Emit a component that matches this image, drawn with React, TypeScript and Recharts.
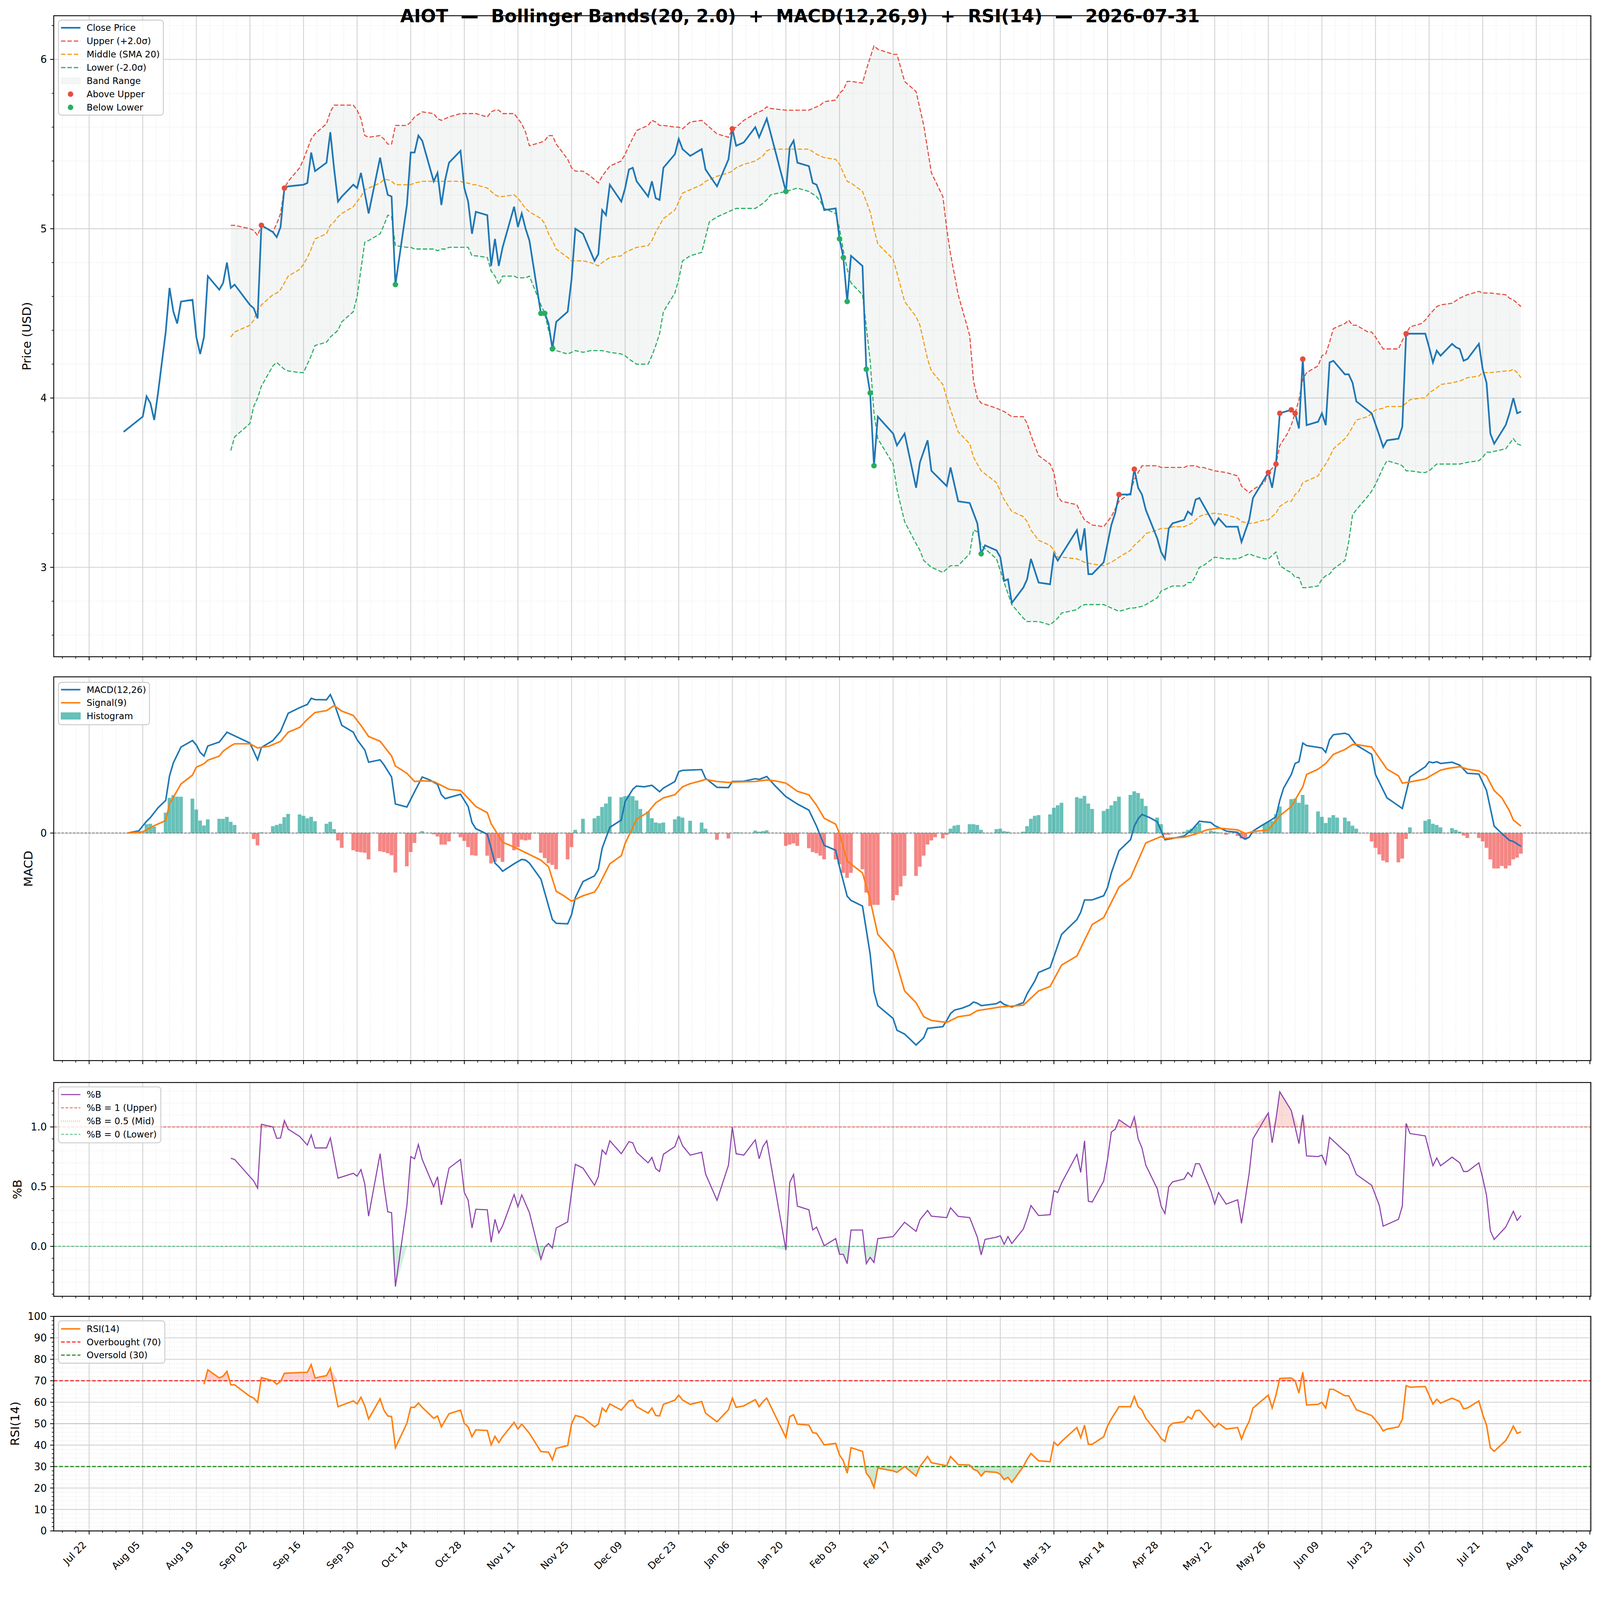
import React from 'react';
import {
  ComposedChart,
  Line,
  Area,
  Bar,
  Cell,
  Scatter,
  XAxis,
  YAxis,
  CartesianGrid,
  ReferenceLine,
} from 'recharts';

// x values are calendar days counted from 2025-07-22
const monthTicks = [
  'Jul 22', 'Aug 05', 'Aug 19', 'Sep 02', 'Sep 16', 'Sep 30', 'Oct 14', 'Oct 28',
  'Nov 11', 'Nov 25', 'Dec 09', 'Dec 23', 'Jan 06', 'Jan 20', 'Feb 03', 'Feb 17',
  'Mar 03', 'Mar 17', 'Mar 31', 'Apr 14', 'Apr 28', 'May 12', 'May 26', 'Jun 09',
  'Jun 23', 'Jul 07', 'Jul 21', 'Aug 04', 'Aug 18',
];

const closePrice: [number, number][] = [
  [9, 3.8], [14, 3.89], [15, 4.01], [16, 3.97], [17, 3.87], [18, 4.03], [20, 4.39], [21, 4.65],
  [22, 4.51], [23, 4.44], [24, 4.57], [27, 4.58], [28, 4.36], [29, 4.26], [30, 4.36], [31, 4.72],
  [34, 4.64], [35, 4.68], [36, 4.8], [37, 4.65], [38, 4.67], [42, 4.55], [43, 4.53], [44, 4.47],
  [45, 5.02], [48, 4.98], [49, 4.95], [50, 5.01], [51, 5.24], [52, 5.25], [56, 5.26], [57, 5.27],
  [58, 5.45], [59, 5.34], [62, 5.39], [63, 5.57], [64, 5.35], [65, 5.16], [66, 5.19], [69, 5.26],
  [70, 5.24], [71, 5.33], [73, 5.09], [76, 5.42], [77, 5.3], [78, 5.2], [79, 5.19], [80, 4.67],
  [83, 5.14], [84, 5.45], [85, 5.45], [86, 5.55], [87, 5.52], [90, 5.28], [91, 5.33], [92, 5.14],
  [93, 5.29], [94, 5.39], [97, 5.46], [98, 5.24], [99, 5.16], [100, 4.97], [101, 5.1], [104, 5.08],
  [105, 4.78], [106, 4.94], [107, 4.78], [108, 4.89], [111, 5.13], [112, 5.01], [113, 5.09],
  [114, 5.0], [115, 4.93], [118, 4.5], [119, 4.5], [120, 4.44], [121, 4.29], [122, 4.45],
  [125, 4.51], [126, 4.7], [127, 5.0], [129, 4.97], [132, 4.81], [133, 4.85], [134, 5.11],
  [135, 5.08], [136, 5.26], [139, 5.16], [140, 5.24], [141, 5.35], [142, 5.36], [143, 5.28],
  [146, 5.19], [147, 5.28], [148, 5.18], [149, 5.17], [150, 5.36], [153, 5.44], [154, 5.53],
  [155, 5.47], [157, 5.43], [160, 5.47], [161, 5.35], [164, 5.25], [167, 5.41], [168, 5.59],
  [169, 5.49], [171, 5.51], [174, 5.6], [175, 5.54], [177, 5.65], [182, 5.22], [183, 5.48],
  [184, 5.52], [185, 5.39], [188, 5.37], [189, 5.27], [190, 5.26], [191, 5.2], [192, 5.11],
  [195, 5.12], [196, 4.94], [197, 4.83], [198, 4.57], [199, 4.84], [202, 4.78], [203, 4.17],
  [204, 4.03], [205, 3.6], [206, 3.89], [210, 3.79], [211, 3.72], [213, 3.79], [216, 3.47],
  [217, 3.62], [219, 3.75], [220, 3.57], [224, 3.48], [225, 3.59], [227, 3.39], [230, 3.38],
  [232, 3.26], [233, 3.08], [234, 3.13], [237, 3.1], [238, 3.06], [239, 2.92], [240, 2.93],
  [241, 2.79], [244, 2.88], [245, 2.93], [246, 3.05], [248, 2.91], [251, 2.9], [252, 3.08],
  [253, 3.04], [258, 3.22], [259, 3.1], [260, 3.23], [261, 2.96], [262, 2.96], [265, 3.03],
  [267, 3.25], [268, 3.32], [269, 3.43], [272, 3.43], [273, 3.58], [274, 3.47], [275, 3.43],
  [276, 3.34], [279, 3.17], [280, 3.09], [281, 3.05], [282, 3.23], [283, 3.26], [286, 3.28],
  [287, 3.33], [288, 3.31], [289, 3.4], [290, 3.41], [294, 3.25], [295, 3.29], [297, 3.24],
  [300, 3.24], [301, 3.15], [303, 3.28], [304, 3.41], [308, 3.56], [309, 3.47], [310, 3.61],
  [311, 3.91], [314, 3.93], [315, 3.91], [316, 3.82], [317, 4.23], [318, 3.84], [321, 3.86],
  [322, 3.91], [323, 3.84], [324, 4.21], [325, 4.22], [328, 4.14], [329, 4.14], [330, 4.09],
  [331, 3.98], [335, 3.91], [337, 3.78], [338, 3.71], [339, 3.75], [342, 3.76], [343, 3.83],
  [344, 4.38], [349, 4.38], [350, 4.3], [351, 4.21], [352, 4.28], [353, 4.25], [356, 4.32],
  [357, 4.3], [358, 4.29], [359, 4.22], [360, 4.23], [363, 4.32], [364, 4.17], [365, 4.09],
  [366, 3.79], [367, 3.73], [370, 3.84], [371, 3.91], [372, 4.0], [373, 3.91], [374, 3.92],
];

// [day, upper, middle, lower]
const bands: [number, number, number, number][] = [
  [37, 5.02, 4.36, 3.69], [38, 5.02, 4.39, 3.77], [42, 5.0, 4.43, 3.85], [43, 4.99, 4.46, 3.95],
  [44, 4.96, 4.52, 4.0], [45, 5.02, 4.55, 4.07], [48, 4.98, 4.61, 4.19], [49, 5.03, 4.62, 4.21],
  [50, 5.09, 4.64, 4.19], [51, 5.24, 4.68, 4.17], [52, 5.28, 4.72, 4.16], [55, 5.36, 4.76, 4.15],
  [56, 5.41, 4.79, 4.15], [57, 5.47, 4.83, 4.2], [58, 5.53, 4.88, 4.25], [59, 5.56, 4.94, 4.31],
  [62, 5.62, 4.97, 4.33], [63, 5.69, 5.02, 4.36], [64, 5.73, 5.04, 4.38], [65, 5.73, 5.07, 4.4],
  [66, 5.73, 5.09, 4.45], [69, 5.73, 5.13, 4.51], [70, 5.7, 5.16, 4.6], [71, 5.65, 5.19, 4.76],
  [72, 5.55, 5.23, 4.92], [73, 5.54, 5.24, 4.93], [76, 5.55, 5.27, 4.97], [77, 5.53, 5.29, 5.02],
  [78, 5.5, 5.29, 5.08], [79, 5.5, 5.28, 5.07], [80, 5.61, 5.26, 4.9], [83, 5.61, 5.26, 4.89],
  [84, 5.63, 5.26, 4.89], [85, 5.66, 5.27, 4.88], [87, 5.69, 5.28, 4.88], [90, 5.68, 5.28, 4.88],
  [91, 5.65, 5.28, 4.87], [92, 5.64, 5.28, 4.88], [93, 5.65, 5.28, 4.88], [94, 5.66, 5.28, 4.89],
  [97, 5.68, 5.28, 4.89], [98, 5.68, 5.27, 4.89], [99, 5.68, 5.27, 4.89], [100, 5.68, 5.26, 4.84],
  [101, 5.68, 5.26, 4.84], [104, 5.66, 5.24, 4.83], [105, 5.69, 5.22, 4.75], [106, 5.7, 5.2, 4.72],
  [107, 5.7, 5.19, 4.67], [108, 5.68, 5.19, 4.72], [111, 5.68, 5.2, 4.72], [112, 5.65, 5.18, 4.71],
  [113, 5.62, 5.15, 4.71], [114, 5.57, 5.12, 4.71], [115, 5.49, 5.1, 4.72], [118, 5.51, 5.06, 4.55],
  [119, 5.52, 5.03, 4.5], [120, 5.55, 4.97, 4.4], [121, 5.55, 4.93, 4.32], [122, 5.5, 4.88, 4.28],
  [125, 5.41, 4.83, 4.26], [126, 5.36, 4.81, 4.27], [127, 5.34, 4.81, 4.28], [129, 5.34, 4.81, 4.27],
  [131, 5.31, 4.8, 4.28], [133, 5.27, 4.78, 4.28], [134, 5.31, 4.8, 4.28], [136, 5.37, 4.83, 4.27],
  [139, 5.4, 4.84, 4.26], [140, 5.44, 4.86, 4.25], [141, 5.49, 4.87, 4.23], [143, 5.58, 4.89, 4.2],
  [146, 5.61, 4.9, 4.2], [147, 5.64, 4.93, 4.25], [148, 5.63, 4.98, 4.31], [149, 5.61, 5.02, 4.38],
  [150, 5.61, 5.06, 4.51], [153, 5.6, 5.11, 4.62], [154, 5.6, 5.16, 4.7], [155, 5.59, 5.21, 4.81],
  [157, 5.63, 5.23, 4.84], [160, 5.64, 5.26, 4.86], [161, 5.62, 5.28, 4.95], [162, 5.6, 5.29, 5.04],
  [164, 5.56, 5.31, 5.07], [167, 5.54, 5.33, 5.1], [168, 5.59, 5.34, 5.11], [169, 5.6, 5.36, 5.12],
  [171, 5.64, 5.38, 5.12], [174, 5.68, 5.4, 5.12], [176, 5.7, 5.43, 5.15], [177, 5.72, 5.46, 5.17],
  [178, 5.71, 5.47, 5.2], [182, 5.7, 5.47, 5.22], [185, 5.7, 5.47, 5.24], [188, 5.7, 5.47, 5.22],
  [190, 5.72, 5.44, 5.19], [191, 5.73, 5.43, 5.16], [192, 5.75, 5.42, 5.12], [195, 5.76, 5.41, 5.09],
  [196, 5.8, 5.38, 5.0], [197, 5.82, 5.33, 4.87], [198, 5.87, 5.28, 4.76], [199, 5.87, 5.27, 4.68],
  [202, 5.86, 5.22, 4.61], [203, 5.94, 5.16, 4.42], [204, 6.01, 5.1, 4.22], [205, 6.08, 5.0, 3.91],
  [206, 6.06, 4.91, 3.76], [210, 6.03, 4.82, 3.61], [211, 6.03, 4.74, 3.46], [213, 5.87, 4.57, 3.27],
  [216, 5.81, 4.48, 3.14], [217, 5.71, 4.43, 3.1], [218, 5.61, 4.33, 3.04], [219, 5.47, 4.23, 3.02],
  [220, 5.33, 4.16, 3.0], [223, 5.19, 4.08, 2.97], [224, 5.0, 4.0, 2.99], [225, 4.85, 3.93, 3.01],
  [227, 4.61, 3.8, 3.01], [230, 4.37, 3.73, 3.08], [231, 4.1, 3.65, 3.22], [232, 4.0, 3.61, 3.21],
  [233, 3.97, 3.57, 3.13], [237, 3.94, 3.5, 3.05], [239, 3.92, 3.4, 2.91], [241, 3.89, 3.33, 2.78],
  [244, 3.89, 3.3, 2.7], [245, 3.85, 3.27, 2.68], [246, 3.78, 3.22, 2.68], [248, 3.66, 3.16, 2.68],
  [251, 3.61, 3.13, 2.66], [252, 3.56, 3.1, 2.68], [253, 3.42, 3.06, 2.7], [254, 3.39, 3.06, 2.73],
  [258, 3.37, 3.05, 2.75], [259, 3.32, 3.04, 2.77], [260, 3.28, 3.03, 2.78], [262, 3.25, 3.02, 2.78],
  [265, 3.24, 3.01, 2.78], [267, 3.3, 3.03, 2.76], [269, 3.39, 3.06, 2.74], [272, 3.44, 3.1, 2.76],
  [273, 3.52, 3.13, 2.76], [275, 3.6, 3.17, 2.77], [276, 3.6, 3.2, 2.78], [279, 3.6, 3.22, 2.82],
  [280, 3.59, 3.23, 2.86], [282, 3.59, 3.23, 2.88], [283, 3.59, 3.24, 2.89], [286, 3.59, 3.24, 2.89],
  [287, 3.6, 3.25, 2.91], [288, 3.6, 3.26, 2.91], [289, 3.6, 3.28, 2.95], [290, 3.59, 3.3, 3.0],
  [291, 3.59, 3.31, 3.01], [294, 3.57, 3.32, 3.06], [297, 3.56, 3.31, 3.05], [300, 3.54, 3.29, 3.05],
  [301, 3.48, 3.27, 3.06], [303, 3.44, 3.26, 3.08], [304, 3.46, 3.26, 3.07], [307, 3.5, 3.28, 3.05],
  [308, 3.56, 3.28, 3.05], [310, 3.61, 3.32, 3.09], [311, 3.72, 3.36, 3.01], [313, 3.79, 3.39, 2.98],
  [314, 3.84, 3.39, 2.97], [315, 3.91, 3.43, 2.94], [316, 3.99, 3.45, 2.94], [317, 4.11, 3.5, 2.88],
  [318, 4.15, 3.51, 2.88], [321, 4.19, 3.54, 2.89], [322, 4.25, 3.58, 2.93], [323, 4.26, 3.61, 2.95],
  [324, 4.33, 3.65, 2.96], [325, 4.41, 3.7, 2.99], [328, 4.44, 3.76, 3.04], [329, 4.46, 3.79, 3.15],
  [330, 4.43, 3.83, 3.31], [331, 4.43, 3.87, 3.34], [334, 4.39, 3.89, 3.42], [335, 4.39, 3.91, 3.45],
  [336, 4.36, 3.93, 3.49], [338, 4.29, 3.94, 3.59], [339, 4.29, 3.95, 3.63], [342, 4.29, 3.95, 3.61],
  [343, 4.34, 3.95, 3.6], [344, 4.38, 3.97, 3.57], [345, 4.42, 3.99, 3.57], [348, 4.44, 4.0, 3.56],
  [349, 4.46, 4.0, 3.56], [350, 4.49, 4.03, 3.57], [352, 4.54, 4.06, 3.61], [353, 4.55, 4.08, 3.61],
  [356, 4.56, 4.09, 3.61], [358, 4.59, 4.1, 3.61], [360, 4.61, 4.12, 3.62], [363, 4.63, 4.13, 3.63],
  [364, 4.62, 4.15, 3.65], [365, 4.62, 4.15, 3.68], [366, 4.62, 4.15, 3.68], [370, 4.61, 4.16, 3.7],
  [371, 4.59, 4.16, 3.73], [372, 4.58, 4.17, 3.76], [373, 4.56, 4.15, 3.73], [374, 4.54, 4.12, 3.72],
];

const aboveUpper: [number, number][] = [
  [45, 5.02], [51, 5.24], [168, 5.59], [269, 3.43], [273, 3.58], [308, 3.56],
  [310, 3.61], [311, 3.91], [314, 3.93], [315, 3.91], [317, 4.23], [344, 4.38],
];
const belowLower: [number, number][] = [
  [80, 4.67], [118, 4.5], [119, 4.5], [121, 4.29], [182, 5.22], [196, 4.94],
  [197, 4.83], [198, 4.57], [203, 4.17], [204, 4.03], [205, 3.6], [233, 3.08],
];

const macdLine: [number, number][] = [
  [10, 0], [13, 0.003], [15, 0.0156], [16, 0.0204], [18, 0.0334], [20, 0.043], [21, 0.0755],
  [22, 0.0927], [24, 0.1135], [27, 0.122], [28, 0.116], [29, 0.1064], [30, 0.1015], [31, 0.1148],
  [34, 0.12], [36, 0.133], [42, 0.1187], [44, 0.0966], [45, 0.1128], [48, 0.122], [50, 0.134],
  [52, 0.158], [55, 0.1654], [57, 0.1696], [58, 0.1777], [59, 0.176], [62, 0.1757], [63, 0.1826],
  [64, 0.171], [66, 0.142], [69, 0.133], [70, 0.123], [72, 0.1096], [73, 0.0934], [76, 0.0966],
  [77, 0.09], [79, 0.0739], [80, 0.0383], [83, 0.0344], [85, 0.0545], [87, 0.0739], [89, 0.07],
  [91, 0.0642], [92, 0.0506], [93, 0.0454], [97, 0.0512], [99, 0.035], [100, 0.0139], [101, 0.0058],
  [104, -0.0016], [105, -0.02], [106, -0.0396], [107, -0.0444], [108, -0.0503], [111, -0.0405],
  [113, -0.0347], [114, -0.0357], [115, -0.0396], [118, -0.0606], [121, -0.114], [122, -0.119],
  [125, -0.1197], [126, -0.1077], [127, -0.085], [129, -0.0639], [132, -0.0564], [133, -0.0477],
  [134, -0.02], [136, 0.0075], [139, 0.0172], [140, 0.0415], [142, 0.0577], [143, 0.062],
  [145, 0.061], [147, 0.063], [149, 0.0545], [150, 0.0593], [153, 0.068], [154, 0.081],
  [155, 0.0827], [160, 0.0837], [161, 0.0723], [164, 0.0603], [167, 0.06], [168, 0.068],
  [171, 0.0684], [174, 0.0717], [175, 0.0707], [177, 0.0746], [179, 0.0632], [182, 0.048],
  [185, 0.0383], [188, 0.0302], [190, 0.0091], [192, -0.0162], [195, -0.0227], [196, -0.0444],
  [198, -0.0833], [199, -0.0888], [202, -0.0963], [204, -0.1595], [205, -0.2088], [206, -0.2276],
  [210, -0.2445], [211, -0.26], [213, -0.265], [216, -0.2795], [218, -0.2698], [219, -0.2575],
  [223, -0.2552], [224, -0.2471], [225, -0.238], [226, -0.2335], [228, -0.2309], [230, -0.227],
  [231, -0.2228], [232, -0.2244], [233, -0.2276], [237, -0.225], [238, -0.2221], [239, -0.226],
  [241, -0.2293], [244, -0.2237], [245, -0.212], [247, -0.1952], [248, -0.1838], [251, -0.1774],
  [254, -0.1336], [258, -0.1141], [259, -0.1044], [260, -0.0882], [262, -0.0882], [265, -0.0827],
  [266, -0.072], [267, -0.0525], [269, -0.0233], [272, -0.0088], [273, 0.0091], [274, 0.0188],
  [275, 0.0246], [277, 0.0204], [279, 0.0149], [281, -0.0088], [283, -0.0071], [286, -0.0039],
  [288, 0.0042], [290, 0.0156], [293, 0.0139], [294, 0.0097], [296, 0.0052], [297, 0.0026],
  [300, 0.001], [301, -0.0055], [302, -0.0078], [303, -0.0055], [304, 0.0026], [306, 0.0091],
  [309, 0.0182], [310, 0.0214], [311, 0.0431], [312, 0.0593], [314, 0.0772], [315, 0.0918],
  [316, 0.094], [317, 0.1187], [318, 0.1154], [322, 0.1122], [323, 0.1064], [324, 0.1232],
  [325, 0.1297], [328, 0.1316], [329, 0.1297], [331, 0.116], [335, 0.1038], [336, 0.0772],
  [339, 0.0464], [343, 0.0324], [345, 0.0739], [349, 0.0875], [350, 0.094], [351, 0.0927],
  [352, 0.094], [353, 0.0918], [356, 0.0934], [358, 0.0895], [360, 0.0788], [363, 0.0778],
  [365, 0.0561], [367, 0.0091], [369, -0.0006], [371, -0.0097], [372, -0.011], [374, -0.0175],
];

const signalLine: [number, number][] = [
  [10, 0], [14, 0.0016], [17, 0.0097], [20, 0.0165], [21, 0.0383], [24, 0.0648], [27, 0.0765],
  [28, 0.0869], [30, 0.0914], [31, 0.096], [34, 0.1015], [35, 0.108], [37, 0.1151], [38, 0.1177],
  [42, 0.1177], [44, 0.1122], [47, 0.1145], [50, 0.121], [52, 0.133], [55, 0.1394], [57, 0.15],
  [59, 0.1589], [62, 0.1615], [64, 0.168], [66, 0.1608], [69, 0.155], [71, 0.142], [73, 0.1274],
  [76, 0.121], [79, 0.1015], [80, 0.0885], [83, 0.0788], [85, 0.068], [87, 0.069], [90, 0.068],
  [94, 0.0577], [97, 0.0561], [98, 0.0512], [101, 0.035], [104, 0.0269], [105, 0.0123],
  [108, -0.012], [111, -0.0185], [113, -0.0233], [118, -0.0357], [120, -0.0444], [122, -0.0768],
  [124, -0.0827], [126, -0.0898], [129, -0.0827], [132, -0.0778], [133, -0.0704], [136, -0.0405],
  [139, -0.0298], [140, -0.0136], [143, 0.0182], [146, 0.0276], [148, 0.0399], [150, 0.0464],
  [153, 0.0506], [155, 0.061], [157, 0.0652], [160, 0.0691], [161, 0.0707], [164, 0.068],
  [167, 0.0668], [169, 0.0674], [174, 0.068], [177, 0.07], [179, 0.069], [182, 0.0658],
  [185, 0.0551], [188, 0.0503], [190, 0.0366], [192, 0.0195], [195, 0.0117], [196, -0.0006],
  [198, -0.037], [202, -0.0525], [204, -0.0882], [206, -0.1336], [210, -0.1563], [213, -0.2082],
  [216, -0.2237], [218, -0.2422], [220, -0.2471], [224, -0.2497], [227, -0.2422], [230, -0.24],
  [232, -0.2341], [235, -0.2318], [238, -0.2293], [244, -0.227], [248, -0.2082], [251, -0.2023],
  [254, -0.1741], [258, -0.1621], [262, -0.1206], [265, -0.1115], [269, -0.0713], [272, -0.059],
  [276, -0.013], [280, -0.0045], [281, -0.0071], [286, -0.0055], [289, -0.0013], [292, 0.0042],
  [295, 0.0065], [300, 0.0042], [302, -0.0006], [304, 0.0019], [308, 0.0042], [311, 0.0227],
  [314, 0.035], [317, 0.061], [318, 0.0772], [321, 0.0843], [323, 0.0918], [325, 0.1038],
  [328, 0.1102], [330, 0.1167], [331, 0.1167], [335, 0.1135], [339, 0.0843], [342, 0.0755],
  [343, 0.0658], [345, 0.0674], [349, 0.0713], [351, 0.0772], [353, 0.083], [355, 0.0853],
  [358, 0.0875], [360, 0.0843], [363, 0.082], [365, 0.0755], [367, 0.0561], [369, 0.0464],
  [371, 0.0292], [372, 0.0172], [374, 0.0091],
];

const macdHist: [number, number][] = [
  [15, 0.0117], [16, 0.0123], [17, 0.0084], [20, 0.0269], [21, 0.0464], [22, 0.05], [23, 0.048],
  [24, 0.048], [27, 0.0454], [28, 0.031], [29, 0.0165], [30, 0.01], [31, 0.018], [34, 0.0188],
  [35, 0.0188], [36, 0.0214], [37, 0.0149], [38, 0.0107], [43, -0.0078], [44, -0.0162], [45, 0.001],
  [48, 0.009], [49, 0.0107], [50, 0.0123], [51, 0.021], [52, 0.0253], [55, 0.0246], [56, 0.0227],
  [57, 0.0195], [58, 0.0214], [59, 0.0156], [62, 0.0123], [63, 0.0149], [64, 0.0052],
  [65, -0.0097], [66, -0.0195], [69, -0.0227], [70, -0.0246], [71, -0.0253], [72, -0.026],
  [73, -0.0347], [76, -0.024], [77, -0.025], [78, -0.0266], [79, -0.0292], [80, -0.0519],
  [83, -0.0438], [84, -0.025], [85, -0.013], [87, 0.0026], [90, -0.0016], [91, -0.0045],
  [92, -0.0152], [93, -0.0152], [94, -0.011], [97, -0.0055], [98, -0.0104], [99, -0.0185],
  [100, -0.0292], [101, -0.0298], [104, -0.0298], [105, -0.04], [106, -0.038], [107, -0.033],
  [108, -0.038], [111, -0.0227], [112, -0.0185], [113, -0.0088], [114, -0.0097], [115, -0.0088],
  [118, -0.026], [119, -0.033], [120, -0.0396], [121, -0.042], [122, -0.0477], [125, -0.0347],
  [126, -0.0185], [127, 0.0042], [129, 0.0188], [132, 0.0195], [133, 0.0227], [134, 0.0344],
  [135, 0.0389], [136, 0.048], [139, 0.0473], [140, 0.0486], [141, 0.0496], [142, 0.0486],
  [143, 0.0431], [144, 0.0318], [146, 0.0285], [147, 0.0195], [148, 0.0139], [149, 0.013],
  [150, 0.0139], [153, 0.0182], [154, 0.022], [155, 0.0204], [157, 0.0162], [160, 0.0139],
  [161, 0.0058], [164, -0.0088], [167, -0.0071], [169, 0.001], [170, 0.0006], [174, 0.0032],
  [175, 0.0019], [176, 0.0026], [177, 0.0036], [182, -0.0169], [183, -0.0152], [184, -0.0136],
  [185, -0.0169], [188, -0.02], [189, -0.025], [190, -0.0266], [191, -0.0298], [192, -0.0347],
  [195, -0.0347], [196, -0.0412], [197, -0.0525], [198, -0.059], [199, -0.0525], [202, -0.0477],
  [203, -0.0785], [204, -0.0963], [205, -0.0947], [206, -0.0947], [210, -0.0888], [211, -0.0817],
  [212, -0.0704], [213, -0.0564], [216, -0.0564], [217, -0.0444], [218, -0.0298], [219, -0.0152],
  [220, -0.0097], [221, -0.0055], [223, -0.0071], [224, -0.0023], [225, 0.0058], [226, 0.0097],
  [227, 0.0107], [230, 0.0117], [231, 0.0117], [232, 0.0107], [233, 0.0042], [237, 0.0052],
  [238, 0.0058], [239, 0.0026], [240, 0.0019], [244, 0.0019], [245, 0.0091], [246, 0.0188],
  [247, 0.0227], [248, 0.0237], [251, 0.0246], [252, 0.0334], [253, 0.0366], [254, 0.0399],
  [258, 0.0473], [259, 0.0457], [260, 0.049], [261, 0.0389], [262, 0.0318], [265, 0.0292],
  [266, 0.0318], [267, 0.0366], [268, 0.0422], [269, 0.048], [272, 0.0503], [273, 0.0551],
  [274, 0.0529], [275, 0.0454], [276, 0.0357], [279, 0.0204], [280, 0.0117], [281, -0.0023],
  [282, -0.0023], [286, 0.0019], [287, 0.0042], [288, 0.0058], [289, 0.0091], [290, 0.013],
  [293, 0.0032], [294, 0.0019], [295, 0.001], [297, -0.0023], [300, -0.0039], [301, -0.0071],
  [302, -0.0088], [304, 0.001], [307, 0.012], [308, 0.015], [309, 0.016], [310, 0.025],
  [311, 0.035], [314, 0.0447], [315, 0.0454], [316, 0.0399], [317, 0.0503], [318, 0.0376],
  [321, 0.0285], [322, 0.0214], [323, 0.0133], [324, 0.0204], [325, 0.0237], [326, 0.0204],
  [328, 0.0204], [329, 0.0156], [330, 0.0097], [331, 0.0058], [335, -0.011], [336, -0.0195],
  [337, -0.0282], [338, -0.0363], [339, -0.0386], [342, -0.0386], [343, -0.0337], [344, -0.0078],
  [345, 0.0075], [349, 0.0162], [350, 0.0182], [351, 0.0123], [352, 0.0107], [353, 0.0075],
  [356, 0.0065], [357, 0.0042], [358, 0.0019], [359, -0.0032], [360, -0.0065], [363, -0.0065],
  [364, -0.011], [365, -0.0195], [366, -0.0347], [367, -0.0467], [368, -0.0467], [369, -0.0434],
  [370, -0.0467], [371, -0.0428], [372, -0.0347], [373, -0.0324], [374, -0.0272],
];

const percentB: [number, number][] = [
  [37, 0.737], [38, 0.728], [43, 0.547], [44, 0.487], [45, 1.022], [48, 1.0], [49, 0.904],
  [50, 0.908], [51, 1.053], [52, 0.981], [55, 0.92], [57, 0.848], [58, 0.933], [59, 0.824],
  [62, 0.824], [63, 0.908], [65, 0.571], [69, 0.612], [70, 0.588], [71, 0.643], [72, 0.523],
  [73, 0.253], [76, 0.776], [77, 0.511], [78, 0.289], [79, 0.282], [80, -0.337], [83, 0.342],
  [84, 0.752], [85, 0.733], [86, 0.853], [87, 0.728], [90, 0.499], [91, 0.583], [92, 0.347],
  [94, 0.655], [97, 0.728], [98, 0.451], [99, 0.386], [100, 0.154], [101, 0.311], [104, 0.306],
  [105, 0.034], [106, 0.227], [107, 0.113], [108, 0.173], [111, 0.434], [112, 0.33], [113, 0.431],
  [115, 0.282], [118, -0.108], [119, -0.007], [120, 0.024], [121, -0.014], [122, 0.154],
  [125, 0.205], [126, 0.451], [127, 0.687], [129, 0.655], [132, 0.511], [133, 0.583], [134, 0.807],
  [135, 0.771], [136, 0.884], [139, 0.776], [141, 0.877], [142, 0.867], [143, 0.788], [146, 0.699],
  [147, 0.745], [148, 0.651], [149, 0.627], [150, 0.771], [153, 0.836], [154, 0.925], [155, 0.843],
  [157, 0.764], [160, 0.788], [161, 0.607], [164, 0.386], [167, 0.68], [168, 1.0], [169, 0.776],
  [171, 0.764], [174, 0.892], [175, 0.733], [176, 0.836], [177, 0.884], [182, -0.031], [183, 0.535],
  [184, 0.602], [185, 0.337], [188, 0.306], [189, 0.137], [190, 0.161], [192, 0.005], [195, 0.065],
  [196, -0.067], [197, -0.067], [198, -0.145], [199, 0.137], [202, 0.137], [203, -0.145],
  [204, -0.092], [205, -0.135], [206, 0.065], [210, 0.082], [213, 0.202], [216, 0.125],
  [217, 0.222], [219, 0.301], [220, 0.253], [224, 0.241], [225, 0.323], [227, 0.251], [230, 0.241],
  [232, 0.077], [233, -0.072], [234, 0.058], [237, 0.077], [238, 0.089], [239, 0.017], [240, 0.082],
  [241, 0.024], [244, 0.145], [245, 0.234], [246, 0.342], [248, 0.258], [251, 0.265], [252, 0.467],
  [253, 0.451], [254, 0.53], [258, 0.771], [259, 0.619], [260, 0.884], [261, 0.378], [262, 0.371],
  [265, 0.547], [266, 0.728], [267, 0.957], [268, 0.981], [269, 1.06], [272, 0.993], [273, 1.084],
  [274, 0.901], [275, 0.824], [276, 0.68], [279, 0.482], [280, 0.337], [281, 0.275], [282, 0.499],
  [283, 0.54], [286, 0.564], [287, 0.619], [288, 0.583], [289, 0.692], [290, 0.692], [293, 0.463],
  [294, 0.354], [295, 0.451], [297, 0.354], [300, 0.39], [301, 0.193], [302, 0.402], [303, 0.612],
  [304, 0.901], [308, 1.118], [309, 0.867], [310, 1.065], [311, 1.294], [314, 1.137], [316, 0.86],
  [317, 1.101], [318, 0.757], [321, 0.752], [322, 0.764], [323, 0.687], [324, 0.913], [329, 0.764],
  [331, 0.602], [335, 0.511], [337, 0.342], [338, 0.169], [342, 0.227], [343, 0.337], [344, 1.029],
  [345, 0.945], [349, 0.925], [351, 0.675], [352, 0.74], [353, 0.675], [356, 0.747], [358, 0.699],
  [359, 0.627], [360, 0.627], [363, 0.699], [364, 0.571], [365, 0.427], [366, 0.13], [367, 0.058],
  [370, 0.161], [371, 0.227], [372, 0.294], [373, 0.217], [374, 0.258],
];

const rsi14: [number, number][] = [
  [30, 68.4], [31, 75.1], [34, 71.3], [35, 72.2], [36, 74.4], [37, 68.1], [38, 68.1], [42, 62.7],
  [43, 61.9], [44, 59.9], [45, 71.5], [48, 70], [49, 68.4], [50, 69.7], [51, 73.5], [57, 74],
  [58, 77.5], [59, 71.3], [62, 72.4], [63, 75.8], [65, 57.9], [69, 60.6], [70, 59.2], [71, 62.3],
  [72, 58.3], [73, 52.2], [76, 61.6], [77, 56.3], [78, 53.6], [79, 53.3], [80, 38.8], [83, 50.2],
  [84, 57.6], [85, 57.6], [86, 59.6], [87, 57.6], [90, 52.5], [91, 53.6], [92, 48.5], [94, 54.6],
  [97, 56.3], [98, 50.2], [99, 48.5], [100, 43.9], [101, 47.1], [104, 46.8], [105, 40.1],
  [106, 44.1], [107, 41.2], [108, 43.9], [111, 50.6], [112, 47.5], [113, 49.8], [115, 45.5],
  [118, 37], [120, 36.7], [121, 33.1], [122, 38.5], [125, 39.8], [126, 49.8], [127, 53.8],
  [129, 52.9], [132, 48.5], [133, 49.8], [134, 57.3], [135, 55.6], [136, 59.2], [139, 56.3],
  [141, 60.6], [142, 61], [143, 57.9], [146, 54.9], [147, 57.3], [148, 53.8], [149, 53.6], [150, 59],
  [153, 61], [154, 63.3], [155, 61], [157, 59], [160, 60.3], [161, 54.9], [164, 50.9], [167, 56.5],
  [168, 61.9], [169, 57.6], [171, 58.3], [174, 61.2], [175, 57.9], [176, 60.3], [177, 61.9],
  [182, 43.5], [183, 53.3], [184, 54.2], [185, 49.8], [188, 49.3], [189, 45.8], [190, 45.5],
  [192, 40.1], [195, 40.8], [196, 35.4], [197, 32.7], [198, 26.9], [199, 38.8], [202, 37.1],
  [203, 26.9], [204, 24.6], [205, 20.2], [206, 29.3], [210, 28], [211, 27.3], [213, 30], [216, 25.6],
  [217, 30], [219, 34.7], [220, 31.8], [224, 30.4], [225, 34.7], [227, 30.9], [230, 30.7],
  [231, 28.7], [232, 28], [233, 25.6], [234, 27.7], [237, 27.3], [238, 26.4], [239, 23.9], [240, 25],
  [241, 22.6], [244, 30], [245, 33.4], [246, 36.1], [248, 32.7], [251, 32.3], [252, 41.4],
  [253, 39.8], [254, 41.7], [258, 48.2], [259, 43.5], [260, 49.3], [261, 40.4], [262, 40.4],
  [265, 43.9], [266, 48.9], [267, 52.2], [269, 57.9], [272, 57.9], [273, 62.7], [274, 57.9],
  [275, 56.3], [276, 52.5], [279, 45.8], [280, 43.1], [281, 41.7], [282, 48.5], [283, 50.2],
  [286, 50.9], [287, 53.3], [288, 52.2], [289, 56], [290, 56.3], [293, 50.2], [294, 48.2],
  [295, 50.2], [297, 47.5], [300, 48.2], [301, 42.8], [302, 47.5], [303, 51.1], [304, 57.3],
  [308, 63.3], [309, 57.3], [310, 63.3], [311, 71.1], [314, 71.3], [315, 70], [316, 64.3], [317, 74],
  [318, 58.7], [321, 59], [322, 60], [323, 57.3], [324, 66], [325, 66], [328, 63], [329, 63],
  [331, 56.5], [335, 53.8], [337, 49.5], [338, 46.6], [339, 47.5], [342, 48.5], [343, 52],
  [344, 67.7], [345, 67], [349, 67.3], [351, 59.2], [352, 61.4], [353, 59.6], [356, 61.9],
  [358, 60.3], [359, 56.9], [360, 57.3], [363, 60.6], [364, 54.2], [365, 49.3], [366, 38.8],
  [367, 37.1], [370, 42.1], [371, 45.2], [372, 48.9], [373, 45.5], [374, 46.2],
];

const FONT = '"DejaVu Sans", sans-serif';
const W = 4378;
const H = 4322;
const PLOT_L = 147;
const PLOT_R = 4353;
const X_DOMAIN: [number, number] = [-9.25, 392.25];

const xMajor = monthTicks.map((_, i) => i * 14);
const xMinor: number[] = [];
for (let k = -2; k <= 112; k++) if (k % 4 !== 0) xMinor.push(k * 3.5);
const xAll = [...xMajor, ...xMinor].sort((a, b) => a - b);

const range = (a: number, b: number, s: number) => {
  const out: number[] = [];
  for (let v = a; v <= b + 1e-9; v += s) out.push(Math.round(v * 1000) / 1000);
  return out;
};
const priceMajor = [3, 4, 5, 6];
const priceMinor = range(2.6, 6.2, 0.2).filter((v) => !priceMajor.some((m) => Math.abs(m - v) < 1e-6));
const pbMajor = [0, 0.5, 1];
const pbMinor = range(-0.4, 1.3, 0.1).filter((v) => !pbMajor.some((m) => Math.abs(m - v) < 1e-6));
const rsiMajor = range(0, 100, 10);
const rsiMinor = range(2, 98, 2).filter((v) => v % 10 !== 0);

const rows = (a: [number, number][]) => a.map(([d, v]) => ({ d, v }));
const bandRows = bands.map(([d, up, mid, lo]) => ({ d, up, mid, lo, r: [lo, up] }));
const histRows = rows(macdHist);
const pbHiFill = percentB.map(([d, v]) => ({ d, r: [1, Math.max(v, 1)] }));
const pbLoFill = percentB.map(([d, v]) => ({ d, r: [Math.min(v, 0), 0] }));
const rsiHiFill = rsi14.map(([d, v]) => ({ d, r: [70, Math.max(v, 70)] }));
const rsiLoFill = rsi14.map(([d, v]) => ({ d, r: [Math.min(v, 30), 30] }));

const makeXTick = (showLabel: boolean) => (props: any) => {
  const { x, y, payload } = props;
  const v = payload.value;
  const major = Math.abs(v % 14) < 1e-6;
  const lx = x - 6;
  const ly = y + 40;
  return (
    <g>
      <line x1={x} x2={x} y1={y} y2={y + (major ? 9.7 : 5.5)} stroke="#000" strokeWidth={major ? 2.2 : 1.7} />
      {showLabel && major && (
        <text x={lx} y={ly} transform={`rotate(-45 ${lx} ${ly})`} textAnchor="end" fontSize={27} fontFamily={FONT} fill="#000">
          {monthTicks[Math.round(v / 14)]}
        </text>
      )}
    </g>
  );
};

const makeYTick = (major: number[], fmt: (v: number) => string) => (props: any) => {
  const { x, y, payload } = props;
  const v = payload.value;
  const isMajor = major.some((m) => Math.abs(m - v) < 1e-6);
  return (
    <g>
      <line x1={x} x2={x - (isMajor ? 9.7 : 5.5)} y1={y} y2={y} stroke="#000" strokeWidth={isMajor ? 2.2 : 1.7} />
      {isMajor && (
        <text x={x - 19} y={y} dy="0.36em" textAnchor="end" fontSize={27.5} fontFamily={FONT} fill="#000">
          {fmt(v)}
        </text>
      )}
    </g>
  );
};

type PanelProps = {
  top: number;
  bottom: number;
  xAxisH: number;
  showXLabels: boolean;
  yDomain: [number, number];
  yMajor: number[];
  yMinor: number[];
  yFmt: (v: number) => string;
  data?: any[];
  children: React.ReactNode;
};

function Panel({ top, bottom, xAxisH, showXLabels, yDomain, yMajor, yMinor, yFmt, data, children }: PanelProps) {
  const pad = 20;
  const height = pad + (bottom - top) + xAxisH;
  return (
    <div style={{ position: 'absolute', left: 0, top: top - pad }}>
      <ComposedChart width={W} height={height} data={data} margin={{ top: pad, right: W - PLOT_R, bottom: 0, left: 0 }}>
        <XAxis
          type="number"
          dataKey="d"
          domain={X_DOMAIN}
          allowDataOverflow
          ticks={xAll}
          interval={0}
          height={xAxisH}
          axisLine={false}
          tickLine={false}
          tickSize={0}
          tickMargin={0}
          tick={makeXTick(showXLabels)}
        />
        <YAxis
          type="number"
          domain={yDomain}
          allowDataOverflow
          ticks={[...yMajor, ...yMinor]}
          interval={0}
          width={PLOT_L}
          axisLine={false}
          tickLine={false}
          tickSize={0}
          tickMargin={0}
          tick={makeYTick(yMajor, yFmt)}
        />
        <CartesianGrid
          verticalValues={xMinor}
          horizontalValues={yMinor}
          horizontal={yMinor.length > 0}
          stroke="#e3e3e3"
          strokeWidth={1.5}
          strokeDasharray="2 3"
        />
        <CartesianGrid verticalValues={xMajor} horizontalValues={yMajor} stroke="#d4d4d4" strokeWidth={2.5} />
        {children}
      </ComposedChart>
    </div>
  );
}

const dot = (color: string) => (p: any) => <circle cx={p.cx} cy={p.cy} r={7.5} fill={color} />;

type LegendItem = { label: string; kind: 'line' | 'patch' | 'marker'; color: string; width?: number; dash?: string; opacity?: number };

function LegendBox({ x, y, w, h, y0, step, items }: { x: number; y: number; w: number; h: number; y0: number; step: number; items: LegendItem[] }) {
  return (
    <g>
      <rect x={x} y={y} width={w} height={h} rx={8} fill="#fff" fillOpacity={0.8} stroke="#cccccc" strokeWidth={2.5} />
      {items.map((it, i) => {
        const cy = y0 + i * step;
        return (
          <g key={it.label}>
            {it.kind === 'line' && (
              <line x1={167} x2={220} y1={cy} y2={cy} stroke={it.color} strokeWidth={it.width ?? 4} strokeDasharray={it.dash} strokeOpacity={it.opacity ?? 1} />
            )}
            {it.kind === 'patch' && (
              <rect x={167} y={cy - 9} width={53} height={18} fill={it.color} fillOpacity={it.opacity ?? 1} stroke={it.color} strokeOpacity={(it.opacity ?? 1) * 0.8} strokeWidth={1.5} />
            )}
            {it.kind === 'marker' && <circle cx={193} cy={cy} r={7.5} fill={it.color} />}
            <text x={237} y={cy} dy="0.36em" fontSize={24.5} fontFamily={FONT} fill="#000">
              {it.label}
            </text>
          </g>
        );
      })}
    </g>
  );
}

const PANELS = {
  price: [43, 1797],
  macd: [1852, 2902],
  pb: [2962, 3547],
  rsi: [3602, 4189],
};

export default function App() {
  // fit the fixed 4378×4322 layout into whatever CSS viewport the browser reports
  const fit =
    typeof window !== 'undefined' && window.innerWidth > 0
      ? Math.min(window.innerWidth / W, window.innerHeight / H)
      : 1;
  const s = fit > 0 ? fit : 1;
  return (
    <div style={{ position: 'absolute', left: 0, top: 0, width: W * s, height: H * s, overflow: 'hidden', background: '#fff' }}>
      <div style={{ position: 'absolute', left: 0, top: 0, width: W, height: H, transform: `scale(${s})`, transformOrigin: '0 0', fontFamily: FONT }}>
        {/* price + bollinger */}
        <Panel top={PANELS.price[0]} bottom={PANELS.price[1]} xAxisH={20} showXLabels={false} yDomain={[2.472, 6.258]} yMajor={priceMajor} yMinor={priceMinor} yFmt={(v) => String(v)}>
          <Area data={bandRows} dataKey="r" type="linear" stroke="none" fill="#95a5a6" fillOpacity={0.1} isAnimationActive={false} />
          <Line data={bandRows} dataKey="up" type="linear" stroke="#e74c3c" strokeWidth={3} strokeDasharray="12 5.5" dot={false} isAnimationActive={false} />
          <Line data={bandRows} dataKey="mid" type="linear" stroke="#f39c12" strokeWidth={3} strokeDasharray="12 5.5" dot={false} isAnimationActive={false} />
          <Line data={bandRows} dataKey="lo" type="linear" stroke="#27ae60" strokeWidth={3} strokeDasharray="12 5.5" dot={false} isAnimationActive={false} />
          <Line data={rows(closePrice)} dataKey="v" type="linear" stroke="#1f77b4" strokeWidth={4.6} dot={false} isAnimationActive={false} />
          <Scatter data={rows(aboveUpper)} dataKey="v" shape={dot('#e74c3c')} isAnimationActive={false} />
          <Scatter data={rows(belowLower)} dataKey="v" shape={dot('#27ae60')} isAnimationActive={false} />
        </Panel>

        {/* MACD */}
        <Panel top={PANELS.macd[0]} bottom={PANELS.macd[1]} xAxisH={20} showXLabels={false} yDomain={[-0.3, 0.206]} yMajor={[0]} yMinor={[]} yFmt={() => '0'} data={histRows}>
          <Bar dataKey="v" barSize={10} isAnimationActive={false}>
            {histRows.map((r, i) => (
              <Cell key={i} fill={r.v >= 0 ? '#26a69a' : '#ef5350'} fillOpacity={0.7} />
            ))}
          </Bar>
          <ReferenceLine y={0} stroke="#808080" strokeWidth={2.5} strokeDasharray="7 3.5" />
          <Line data={rows(macdLine)} dataKey="v" type="linear" stroke="#1f77b4" strokeWidth={4.2} dot={false} isAnimationActive={false} />
          <Line data={rows(signalLine)} dataKey="v" type="linear" stroke="#ff7f0e" strokeWidth={4.2} dot={false} isAnimationActive={false} />
        </Panel>

        {/* %B */}
        <Panel top={PANELS.pb[0]} bottom={PANELS.pb[1]} xAxisH={20} showXLabels={false} yDomain={[-0.418, 1.372]} yMajor={pbMajor} yMinor={pbMinor} yFmt={(v) => v.toFixed(1)}>
          <Area data={pbHiFill} dataKey="r" type="linear" stroke="none" fill="#e74c3c" fillOpacity={0.2} isAnimationActive={false} />
          <Area data={pbLoFill} dataKey="r" type="linear" stroke="none" fill="#27ae60" fillOpacity={0.2} isAnimationActive={false} />
          <ReferenceLine y={1} stroke="#e74c3c" strokeOpacity={0.75} strokeWidth={2.8} strokeDasharray="8 4" />
          <ReferenceLine y={0.5} stroke="#f39c12" strokeOpacity={0.7} strokeWidth={2.8} strokeDasharray="2.5 3" />
          <ReferenceLine y={0} stroke="#27ae60" strokeOpacity={0.7} strokeWidth={2.8} strokeDasharray="8 4" />
          <Line data={rows(percentB)} dataKey="v" type="linear" stroke="#8e44ad" strokeWidth={3} dot={false} isAnimationActive={false} />
        </Panel>

        {/* RSI */}
        <Panel top={PANELS.rsi[0]} bottom={PANELS.rsi[1]} xAxisH={130} showXLabels yDomain={[0, 100]} yMajor={rsiMajor} yMinor={rsiMinor} yFmt={(v) => String(v)}>
          <Area data={rsiHiFill} dataKey="r" type="linear" stroke="none" fill="#ff0000" fillOpacity={0.18} isAnimationActive={false} />
          <Area data={rsiLoFill} dataKey="r" type="linear" stroke="none" fill="#008000" fillOpacity={0.18} isAnimationActive={false} />
          <ReferenceLine y={70} stroke="#ff0000" strokeOpacity={0.8} strokeWidth={3.3} strokeDasharray="10 5" />
          <ReferenceLine y={30} stroke="#008000" strokeOpacity={0.8} strokeWidth={3.3} strokeDasharray="10 5" />
          <ReferenceLine y={50} stroke="#808080" strokeOpacity={0.6} strokeWidth={2.2} strokeDasharray="2 3" />
          <Line data={rows(rsi14)} dataKey="v" type="linear" stroke="#ff7f0e" strokeWidth={4} dot={false} isAnimationActive={false} />
        </Panel>

        {/* frame, title, axis labels, legends */}
        <svg width={W} height={H} style={{ position: 'absolute', left: 0, top: 0, pointerEvents: 'none' }}>
          {Object.values(PANELS).map(([t, b]) => (
            <rect key={t} x={PLOT_L} y={t} width={PLOT_R - PLOT_L} height={b - t} fill="none" stroke="#000" strokeWidth={2.4} />
          ))}
          <text x={2189} y={61} textAnchor="middle" fontSize={49} fontWeight="bold" fontFamily={FONT} fill="#000" xmlSpace="preserve" style={{ whiteSpace: 'pre' }}>
            {'AIOT  —  Bollinger Bands(20, 2.0)  +  MACD(12,26,9)  +  RSI(14)  —  2026-07-31'}
          </text>
          {[
            ['Price (USD)', 73, (PANELS.price[0] + PANELS.price[1]) / 2],
            ['MACD', 77, (PANELS.macd[0] + PANELS.macd[1]) / 2],
            ['%B', 47, (PANELS.pb[0] + PANELS.pb[1]) / 2],
            ['RSI(14)', 40, (PANELS.rsi[0] + PANELS.rsi[1]) / 2],
          ].map(([label, x, y]) => (
            <text
              key={label as string}
              x={x as number}
              y={y as number}
              transform={`rotate(-90 ${x} ${y})`}
              textAnchor="middle"
              dy="0.36em"
              fontSize={33}
              fontFamily={FONT}
              fill="#000"
            >
              {label}
            </text>
          ))}
          <LegendBox
            x={160}
            y={55}
            w={287}
            h={260}
            y0={76}
            step={36.3}
            items={[
              { label: 'Close Price', kind: 'line', color: '#1f77b4', width: 4.6 },
              { label: 'Upper (+2.0σ)', kind: 'line', color: '#e74c3c', width: 3, dash: '12 5.5' },
              { label: 'Middle (SMA 20)', kind: 'line', color: '#f39c12', width: 3, dash: '12 5.5' },
              { label: 'Lower (-2.0σ)', kind: 'line', color: '#27ae60', width: 3, dash: '12 5.5' },
              { label: 'Band Range', kind: 'patch', color: '#95a5a6', opacity: 0.1 },
              { label: 'Above Upper', kind: 'marker', color: '#e74c3c' },
              { label: 'Below Lower', kind: 'marker', color: '#27ae60' },
            ]}
          />
          <LegendBox
            x={160}
            y={1867}
            w={249}
            h={116}
            y0={1887}
            step={36}
            items={[
              { label: 'MACD(12,26)', kind: 'line', color: '#1f77b4', width: 4.2 },
              { label: 'Signal(9)', kind: 'line', color: '#ff7f0e', width: 4.2 },
              { label: 'Histogram', kind: 'patch', color: '#26a69a', opacity: 0.7 },
            ]}
          />
          <LegendBox
            x={160}
            y={2974}
            w={280}
            h={153}
            y0={2995}
            step={36.3}
            items={[
              { label: '%B', kind: 'line', color: '#8e44ad', width: 3 },
              { label: '%B = 1 (Upper)', kind: 'line', color: '#e74c3c', width: 2.8, dash: '8 4', opacity: 0.75 },
              { label: '%B = 0.5 (Mid)', kind: 'line', color: '#f39c12', width: 2.8, dash: '2.5 3', opacity: 0.7 },
              { label: '%B = 0 (Lower)', kind: 'line', color: '#27ae60', width: 2.8, dash: '8 4', opacity: 0.7 },
            ]}
          />
          <LegendBox
            x={160}
            y={3614}
            w={291}
            h={116}
            y0={3636}
            step={36}
            items={[
              { label: 'RSI(14)', kind: 'line', color: '#ff7f0e', width: 4 },
              { label: 'Overbought (70)', kind: 'line', color: '#ff0000', width: 3.3, dash: '10 5', opacity: 0.8 },
              { label: 'Oversold (30)', kind: 'line', color: '#008000', width: 3.3, dash: '10 5', opacity: 0.8 },
            ]}
          />
        </svg>
      </div>
    </div>
  );
}
